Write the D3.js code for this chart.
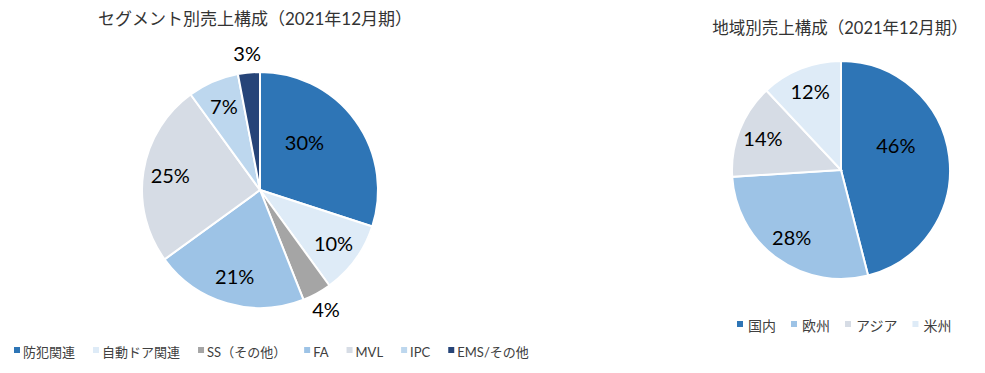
<!DOCTYPE html>
<html>
<head>
<meta charset="utf-8">
<script src="https://cdn.jsdelivr.net/npm/d3@7"></script>
<style>
  body { margin: 0; background: #fff; }
  svg { font-family: Lato, "Noto Sans CJK JP", sans-serif; }
</style>
</head>
<body>
<div id="chart"></div>
<script>
// segment breakdown
const segNames = ['防犯関連', '自動ドア関連', 'SS（その他）', 'FA', 'MVL', 'IPC', 'EMS/その他'];
const segValues = [30, 10, 4, 21, 25, 7, 3];
const segColors = ['#2E75B6', '#DEEBF7', '#A5A5A5', '#9DC3E6', '#D6DCE5', '#BDD7EE', '#264478'];

// region breakdown
const regNames = ['国内', '欧州', 'アジア', '米州'];
const regValues = [46, 28, 14, 12];
const regColors = ['#2E75B6', '#9DC3E6', '#D6DCE5', '#DEEBF7'];

const width = 985, height = 373;

const svg = d3.select('#chart').append('svg')
  .attr('width', width)
  .attr('height', height);

function drawPie(opts) {
  const g = svg.append('g').attr('transform', `translate(${opts.cx}, ${opts.cy})`);
  const pie = d3.pie().sort(null).value(d => d.value);
  const arcs = pie(opts.names.map((n, i) => ({ name: n, value: opts.values[i], color: opts.colors[i] })));
  const arc = d3.arc().innerRadius(0).outerRadius(opts.r);

  g.selectAll('path').data(arcs).enter().append('path')
    .attr('d', arc)
    .attr('fill', d => d.data.color)
    .attr('stroke', '#fff')
    .attr('stroke-width', 2);

  // label radius depends on slice size (roughly how excel places them)
  const labelR = v => v < 5 ? 1.16 : (v >= 30 ? 0.55 : 0.77);
  g.selectAll('text.lbl').data(arcs).enter().append('text')
    .attr('class', 'lbl')
    .attr('transform', d => {
      // big slices: excel pulls the label toward the start edge
      const a = d.data.value >= 30
        ? d.startAngle + (d.endAngle - d.startAngle) * 0.4
        : (d.startAngle + d.endAngle) / 2;
      const rr = opts.r * labelR(d.data.value);
      return `translate(${Math.sin(a) * rr}, ${-Math.cos(a) * rr})`;
    })
    .attr('text-anchor', 'middle')
    .attr('dy', '0.36em')
    .attr('font-size', '20px')
    .attr('fill', '#000')
    .text(d => d.data.value + '%');

  svg.append('text')
    .attr('x', opts.titleX)
    .attr('y', opts.titleY)
    .attr('text-anchor', 'middle')
    .attr('font-size', opts.titleSize)
    .attr('fill', '#333')
    .text(opts.title);

  // legend
  const leg = svg.append('g').attr('transform', `translate(${opts.legX}, ${opts.legY})`);
  let x = 0;
  opts.names.forEach((n, i) => {
    const item = leg.append('g').attr('transform', `translate(${x}, 0)`);
    item.append('rect')
      .attr('x', 0).attr('y', -5)
      .attr('width', 6).attr('height', 6)
      .attr('fill', opts.colors[i]);
    const t = item.append('text')
      .attr('x', 9 + (opts.textPad || 0))
      .attr('y', 0)
      .attr('dy', '0.35em')
      .attr('font-size', opts.legSize)
      .attr('fill', '#404040')
      .text(n);
    x += 9 + (opts.textPad || 0) + t.node().getComputedTextLength() + opts.legGap;
  });
}

drawPie({
  names: segNames, values: segValues, colors: segColors,
  cx: 260, cy: 190, r: 118,
  title: 'セグメント別売上構成（2021年12月期）', titleX: 255, titleY: 25, titleSize: '17px',
  legX: 14, legY: 352, legGap: 18, legSize: '13px'
});

drawPie({
  names: regNames, values: regValues, colors: regColors,
  cx: 841, cy: 170, r: 109,
  title: '地域別売上構成（2021年12月期）', titleX: 840, titleY: 34, titleSize: '16.5px',
  legX: 737, legY: 326, legGap: 15, textPad: 2, legSize: '14px'
});
</script>
</body>
</html>
